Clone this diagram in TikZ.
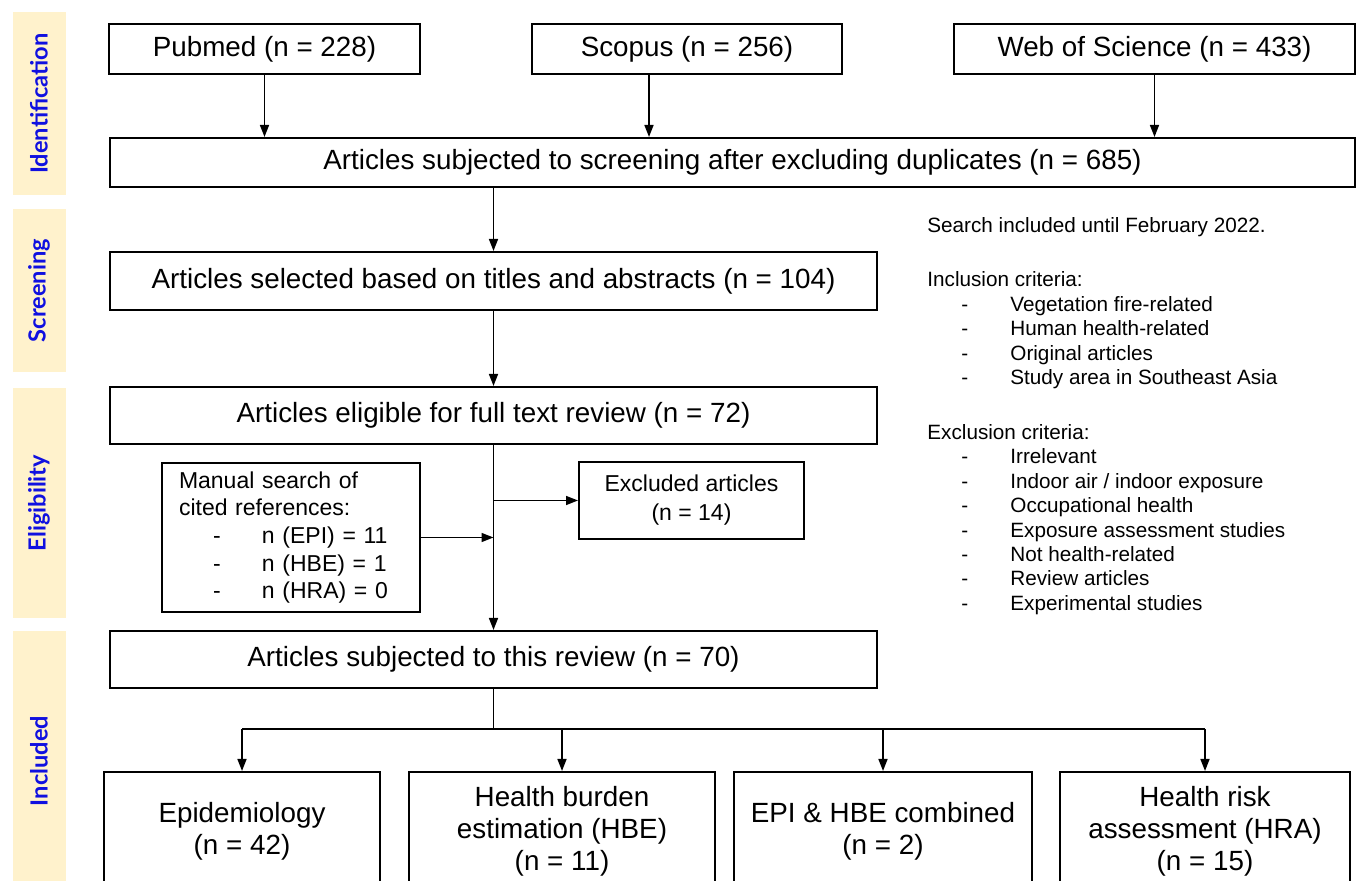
\documentclass[tikz,border=0pt]{standalone}
\usepackage{fontspec}
\setmainfont{Liberation Sans}
\newfontfamily\stagefont{Lato}
\usepackage{tikz}
\usetikzlibrary{arrows.meta,positioning}
\definecolor{stagefill}{HTML}{FFF2CC}
\definecolor{stagetext}{HTML}{1010E0}
\newcommand{\dashitem}[1]{\hspace*{17pt}\makebox[24.5pt][l]{-}#1}
\tikzset{
    box/.style={draw, line width=1pt, inner sep=0pt, align=center,
        font=\fontsize{13.9}{16}\selectfont},
    smallbox/.style={box, font=\fontsize{11.5}{14.5}\selectfont},
    stage/.style={fill=stagefill, rotate=90, inner sep=0pt, minimum height=26.5pt,
        text=stagetext, font=\stagefont\bfseries\fontsize{11.8}{13}\selectfont},
    arr/.style={-{Triangle[length=6pt, width=4.5pt]}, line width=0.8pt},
    link/.style={line width=0.8pt},
}

\begin{document}
\begin{tikzpicture}[x=0.5pt, y=-0.5pt]
    \useasboundingbox (0,0) rectangle (1357,881);

    % 阶段
    \node[stage, minimum width=91.5pt] (ident) at (39,103.5) {Identification};
    \node[stage, minimum width=81.5pt] (scr) at (39,290.5) {Screening};
    \node[stage, minimum width=115pt] (elg) at (39,503) {Eligibility};
    \node[stage, minimum width=130pt] (inc) at (39,761) {Included};

    % 数据库
    \node[box, minimum width=155.5pt, minimum height=25pt] (pubmed) at (264.5,49) {Pubmed (n = 228)};
    \node[box, minimum width=155pt, minimum height=25pt] (scopus) at (687,49) {Scopus (n = 256)};
    \node[box, minimum width=200.5pt, minimum height=25pt] (wos) at (1154.5,49) {Web of Science (n = 433)};

    \node[box, minimum width=622.5pt, minimum height=24.5pt] (screen) at (732.5,162.5)
        {Articles subjected to screening after excluding duplicates (n = 685)};
    \node[box, minimum width=383.5pt, minimum height=29pt] (select) at (493.5,281)
        {Articles selected based on titles and abstracts (n = 104)};
    \node[box, minimum width=383.5pt, minimum height=28.5pt] (elig) at (493.5,415.5)
        {Articles eligible for full text review (n = 72)};
    \node[smallbox, minimum width=129pt, minimum height=74.5pt, text width=112pt,
        align=left, font=\fontsize{11.5}{13.85}\selectfont] (manual) at (291,537.5)
        {Manual search of\\cited references:\\\dashitem{n (EPI) = 11}\\
         \dashitem{n (HBE) = 1}\\\dashitem{n (HRA) = 0}};
    \node[smallbox, minimum width=112.5pt, minimum height=38.5pt] (excl) at (691.5,500.5)
        {Excluded articles\\(n = 14)};
    \node[box, minimum width=383.5pt, minimum height=28.5pt] (review) at (493.5,659.5)
        {Articles subjected to this review (n = 70)};

    % 分类
    \node[box, minimum width=138pt, minimum height=59pt] (epi) at (242,831)
        {Epidemiology\\(n = 42)};
    \node[box, minimum width=153pt, minimum height=59pt] (hbe) at (562,831)
        {Health burden\\estimation (HBE)\\(n = 11)};
    \node[box, minimum width=149pt, minimum height=59pt] (both) at (883,831)
        {EPI \& HBE combined\\(n = 2)};
    \node[box, minimum width=145pt, minimum height=59pt] (hra) at (1205,831)
        {Health risk\\assessment (HRA)\\(n = 15)};

    % 标准
    \node[anchor=north west, inner sep=0pt, align=left,
        font=\fontsize{10.35}{12.2}\selectfont] (crit) at (927,217.5)
        {Search included until February 2022.\\[14.8pt]
         Inclusion criteria:\\
         \dashitem{Vegetation fire-related}\\
         \dashitem{Human health-related}\\
         \dashitem{Original articles}\\
         \dashitem{Study area in Southeast Asia}\\[15.3pt]
         Exclusion criteria:\\
         \dashitem{Irrelevant}\\
         \dashitem{Indoor air / indoor exposure}\\
         \dashitem{Occupational health}\\
         \dashitem{Exposure assessment studies}\\
         \dashitem{Not health-related}\\
         \dashitem{Review articles}\\
         \dashitem{Experimental studies}};

    % 箭头
    \draw[arr] (pubmed.south) -- (pubmed.south |- screen.north);
    \draw[arr] ([xshift=-19pt]scopus.south) -- ([xshift=-19pt]scopus.south |- screen.north);
    \draw[arr] (wos.south) -- (wos.south |- screen.north);
    \draw[arr] (screen.south -| select.north) -- (select.north);
    \draw[arr] (select.south) -- (elig.north);
    \draw[arr] (elig.south) -- (review.north);
    \draw[arr] (elig.south |- excl.west) -- (excl.west);
    \draw[arr] (manual.east) -- (manual.east -| elig.south);

    \draw[link] (review.south) -- ++(0,40) coordinate (split);
    \draw[link] (split -| epi.north) -- (split -| hra.north);
    \foreach \k in {epi, hbe, both, hra}
        \draw[arr] (split -| \k.north) -- (\k.north);
\end{tikzpicture}
\end{document}
